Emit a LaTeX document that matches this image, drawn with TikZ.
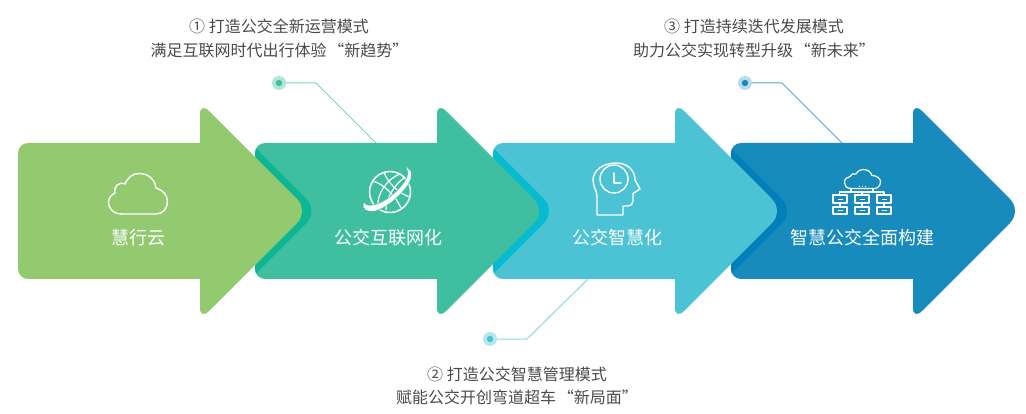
\documentclass[tikz,border=0pt]{standalone}
\usepackage{fontspec}
\setmainfont{Noto Sans CJK SC}
\definecolor{cA}{HTML}{93CA70}
\definecolor{cB}{HTML}{3FBF9F}
\definecolor{cC}{HTML}{4BC3D4}
\definecolor{cD}{HTML}{168BBC}
\definecolor{bB}{HTML}{0DB795}
\definecolor{bC}{HTML}{06BBD0}
\definecolor{bD}{HTML}{0080B8}
\definecolor{txt}{HTML}{4A4A4A}
\newcommand{\arrowshape}{(18,153) .. controls (18,147.5) and (22.5,143) .. (28,143) -- (200,143) -- (200,114) .. controls (200,107.4) and (204,106) .. (209,111) -- (297,199) .. controls (303.6,205.6) and (303.6,216.4) .. (297,223) -- (209,311) .. controls (204,316) and (200,314.6) .. (200,308) -- (200,279) -- (28,279) .. controls (22.5,279) and (18,274.5) .. (18,269) -- cycle}
\newcommand{\bodyshape}{(18,153) .. controls (18,147.5) and (22.5,143) .. (28,143) -- (120,143) -- (120,279) -- (28,279) .. controls (22.5,279) and (18,274.5) .. (18,269) -- cycle}
\newcommand{\qgap}{\kern-2pt}
\tikzset{
  x=1pt,y=-1pt,
  toptext/.style={text=txt,inner sep=0pt,font=\fontsize{16}{18}\selectfont},
  arrowtext/.style={text=white,inner sep=0pt,font=\fontsize{18}{20}\selectfont},
  icon/.style={draw=white,line width=1.4pt,line join=round,line cap=round},
  thinicon/.style={draw=white,line width=1.2pt,line join=round},
  link/.style={line width=1pt},
  halo/.style={circle,inner sep=0pt,minimum size=14pt},
}
\begin{document}
\begin{tikzpicture}
\useasboundingbox (0,0) rectangle (1026,414);
% connectors and dots
\node[halo,fill=cB!40!white] (d1) at (279,83) {};
\node[halo,fill=cC!40!white] (d2) at (490,339) {};
\node[halo,fill=cD!30!white] (d3) at (745,83) {};
\coordinate (b1) at (316,83); \coordinate (e1) at (378,145);
\coordinate (b2) at (527,339); \coordinate (e2) at (590,277);
\coordinate (b3) at (782,83); \coordinate (e3) at (844,145);
\draw[link,draw=cB!70!white] (d1) -- (b1) -- (e1);
\draw[link,draw=cC!65!white] (d2) -- (b2) -- (e2);
\draw[link,draw=cD!75!white] (d3) -- (b3) -- (e3);
\fill[cB] (d1) circle (3.2);
\fill[cC] (d2) circle (3.2);
\fill[cD] (d3) circle (3.2);
% arrows
\fill[cD,shift={(713,0)}] \arrowshape;
\begin{scope}
  \clip[shift={(713,0)}] \bodyshape;
  \fill[bD,shift={(485,0)}] \arrowshape;
\end{scope}
\fill[cC,shift={(475,0)}] \arrowshape;
\begin{scope}
  \clip[shift={(475,0)}] \bodyshape;
  \fill[bC,shift={(247,0)}] \arrowshape;
\end{scope}
\fill[cB,shift={(237,0)}] \arrowshape;
\begin{scope}
  \clip[shift={(237,0)}] \bodyshape;
  \fill[bB,shift={(9.5,0)}] \arrowshape;
\end{scope}
\fill[cA] \arrowshape;
% icons: cloud
\draw[icon] (122,214) .. controls (113,214) and (108.5,208) .. (108.5,203)
  .. controls (108.5,198) and (111,195) .. (115,193)
  .. controls (113,187) and (119,181) .. (125,184)
  .. controls (128,177) and (133,173.5) .. (139,173.5)
  .. controls (149,173.5) and (155,180) .. (156,188)
  .. controls (163,190) and (167.5,195) .. (167.5,202)
  .. controls (167.5,209) and (162,214) .. (156,214) -- cycle;
% icons: globe
\draw[thinicon,line width=1.5pt] (390,192) circle (20.5);
\begin{scope}
  \clip (390,192) circle (20.5);
  \draw[thinicon] (372,181) .. controls (383,183) and (396,196) .. (402,210);
  \draw[thinicon] (384,172) .. controls (387,182) and (399,194) .. (410,197);
  \draw[thinicon] (400,174) .. controls (388,178) and (376,194) .. (378,208);
  \draw[thinicon] (404,178) .. controls (395,184) and (386,198) .. (386,210);
\end{scope}
\draw[cB,line width=2pt] (407,168) .. controls (413,171) and (412,180) .. (404,189) .. controls (396,199) and (384,208) .. (375,210.5) .. controls (368,212) and (362,209) .. (364,203.5) .. controls (366,206) and (370,206.5) .. (374,205.5) .. controls (384,203) and (394,196) .. (402,186) .. controls (408,179) and (410,173) .. (407,168) -- cycle;
\fill[white,draw=white,line width=0.5pt] (407,168) .. controls (413,171) and (412,180) .. (404,189) .. controls (396,199) and (384,208) .. (375,210.5) .. controls (368,212) and (362,209) .. (364,203.5) .. controls (366,206) and (370,206.5) .. (374,205.5) .. controls (384,203) and (394,196) .. (402,186) .. controls (408,179) and (410,173) .. (407,168) -- cycle;
% icons: head
\draw[icon] (597,215) -- (597,197) .. controls (597,190) and (593,187) .. (593,180)
  .. controls (593,170) and (604,163) .. (616,163)
  .. controls (627,163) and (635,170) .. (635,180)
  -- (640,189) -- (633,193.5) -- (633,201) .. controls (633,204) and (631,206) .. (628,206)
  -- (623,206) -- (623,215) -- cycle;
\draw[icon] (614,179) circle (14);
\draw[icon] (614,173) -- (614,183) -- (621,183);
% icons: network
\draw[thinicon] (851,188.5) .. controls (846,188.5) and (844.5,185) .. (844.5,182.5)
  .. controls (844.5,179) and (847,177) .. (850,176.5)
  .. controls (851,174) and (854,173) .. (856,174)
  .. controls (858,170.5) and (861,169.5) .. (863,169.5)
  .. controls (868,169.5) and (871,172) .. (872,175.5)
  .. controls (877,175.5) and (880.5,178.5) .. (880.5,182)
  .. controls (880.5,186) and (877,188.5) .. (875,188.5) -- cycle;
\draw[thinicon] (851,188.5) -- (851,192) (873,188.5) -- (873,192) (839.5,195) -- (839.5,192) -- (884,192) -- (884,195) (862,192) -- (862,195);
\fill[white] (859,187) rectangle (860,185.8) (862,187) rectangle (863,185.8) (865,187) rectangle (866,185.8);
\foreach \bx in {833,855,877}{
  \draw[thinicon] (\bx,195) rectangle ++(14,8);
  \draw[thinicon] (\bx,207) rectangle ++(14,7);
  \draw[thinicon] (\bx+7,203) -- ++(0,4);
  \draw[thinicon,line width=0.9pt] (\bx+4.5,199) -- ++(5,0) (\bx+4.5,210.5) -- ++(5,0);
}
% labels
\node[arrowtext] (l1) at (138,238) {慧行云};
\node[arrowtext] (l2) at (388,238) {公交互联网化};
\node[arrowtext] (l3) at (617,238) {公交智慧化};
\node[arrowtext] (l4) at (862,238) {智慧公交全面构建};
\node[toptext] (t1a) at (279,26) {① 打造公交全新运营模式};
\node[toptext] (t1b) at (279.5,50) {满足互联网时代出行体验 \qgap “新趋势”};
\node[toptext] (t2a) at (517,374) {② 打造公交智慧管理模式};
\node[toptext] (t2b) at (517,397) {赋能公交开创弯道超车 \qgap “新局面”};
\node[toptext] (t3a) at (754,26) {③ 打造持续迭代发展模式};
\node[toptext] (t3b) at (754,50) {助力公交实现转型升级 \qgap “新未来”};
\end{tikzpicture}
\end{document}
